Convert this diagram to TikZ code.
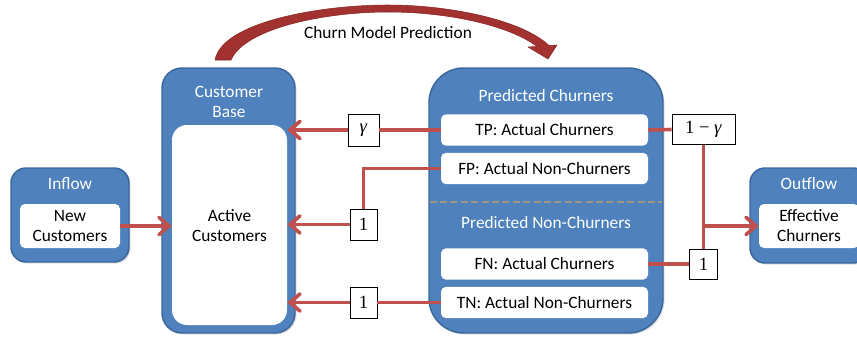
\documentclass[tikz,border=0pt]{standalone}
\usepackage{fontspec}
\setmainfont{Carlito}
\newfontfamily\factorfont{Liberation Serif}
\usetikzlibrary{arrows.meta,shadows,calc}
\definecolor{boxblue}{HTML}{4F81BD}
\definecolor{boxedge}{HTML}{3A679B}
\definecolor{flowred}{HTML}{C0504D}
\definecolor{arcred}{HTML}{A2322F}
\definecolor{arcedge}{HTML}{872624}
\definecolor{dashgray}{HTML}{A39480}
\begin{document}
\begin{tikzpicture}[x=0.75pt,y=-0.75pt,
  font=\fontsize{13}{15}\selectfont,
  outerbox/.style={draw=boxedge,line width=1.1pt,fill=boxblue,inner sep=0pt,
    drop shadow={opacity=0.25,shadow xshift=1.2pt,shadow yshift=-1.2pt}},
  whitebox/.style={fill=white,inner sep=0pt,rounded corners=3.75pt,align=center,text=black},
  title/.style={text=white,inner sep=0pt,align=center},
  subbox/.style={whitebox,minimum width=155.25pt,minimum height=23.5pt},
  factor/.style={draw=black,line width=0.5pt,fill=white,inner sep=0pt,font=\factorfont\fontsize{14}{16}\selectfont},
  flow/.style={draw=flowred,line width=2.7pt},
  flowarrow/.style={flow,-{Straight Barb[length=7.5pt,width=13pt,line cap=round]}},
  ]
\useasboundingbox (0,0) rectangle (857,336);
\clip (0,0) rectangle (857,336);

% Inflow
\node[outerbox,rounded corners=11.25pt,minimum width=88.5pt,minimum height=70.5pt] (inflow) at (70,215) {};
\node[title] (inflowt) at (70,184) {Inflow};
\node[whitebox,minimum width=75pt,minimum height=33pt,text width=72pt] (inflowin) at (70,226) {New\\Customers};

% Customer base
\node[outerbox,rounded corners=15pt,minimum width=99.75pt,minimum height=198.75pt] (cb) at (228.5,200.5) {};
\node[title] (cbt) at (229,102) {Customer\\Base};
\node[whitebox,rounded corners=11.25pt,minimum width=86.25pt,minimum height=150pt] (cbin) at (229.5,225) {};
\node[inner sep=0pt,align=center] (active) at (229.5,226) {Active\\Customers};

% Predicted
\node[outerbox,rounded corners=26pt,minimum width=175.5pt,minimum height=198.75pt] (pred) at (546,200.5) {};
\coordinate (dashy) at (546,202);
\draw[dashgray,line width=1.6pt,dash pattern=on 5.2pt off 2.6pt] ([xshift=1pt]pred.west |- dashy) -- ([xshift=-1pt]pred.east |- dashy);
\node[title] (pct) at (546,96) {Predicted Churners};
\node[title] (pnt) at (546,223) {Predicted Non-Churners};
\node[subbox] (tp) at (544.5,130) {TP: Actual Churners};
\node[subbox] (fp) at (544.5,168.5) {FP: Actual Non-Churners};
\node[subbox] (fn) at (544.5,264) {FN: Actual Churners};
\node[subbox] (tn) at (544.5,302.5) {TN: Actual Non-Churners};

% Outflow
\node[outerbox,rounded corners=11.25pt,minimum width=88.5pt,minimum height=71.25pt] (outflow) at (809,215.5) {};
\node[title] (outflowt) at (809,184) {Outflow};
\node[whitebox,minimum width=75pt,minimum height=33pt,text width=72pt] (outin) at (809,226) {Effective\\Churners};

% factor boxes
\node[factor,minimum width=23.25pt,minimum height=24pt] (gam) at (363.5,130) {\textit{γ}};
\node[factor,minimum width=20.25pt,minimum height=23.25pt] (one1) at (363.5,224.5) {1};
\node[factor,minimum width=20.25pt,minimum height=23.25pt] (one2) at (363.5,302.5) {1};
\node[factor,minimum width=47.25pt,minimum height=22.5pt] (omg) at (703.5,129.5) {1 − \textit{γ}};
\node[factor,minimum width=21pt,minimum height=22.5pt] (one3) at (703.5,264) {1};

% flows
\draw[flowarrow] (inflowin.east) -- (inflowin.east -| cbin.west);
\draw[flow] (tp.west) -- (gam.east);
\draw[flowarrow] (gam.west) -- (gam.west -| cbin.east);
\draw[flow] (fp.west) -| (one1.north);
\draw[flowarrow] (one1.west) -- (one1.west -| cbin.east);
\draw[flow] (tn.west) -- (one2.east);
\draw[flowarrow] (one2.west) -- (one2.west -| cbin.east);
\draw[flow] (tp.east) -- (omg.west);
\draw[flow] (fn.east) -- (one3.west);
\draw[flow] (omg.south) -- (one3.north);
\coordinate (junc) at (omg.south |- outin.west);
\draw[flowarrow] (junc) -- (outin.west);

% churn model prediction arc
\coordinate (arctip) at (548,59);
\fill[arcred,draw=arcedge,line width=0.4pt,line join=round]
  (215,60) .. controls (222,22) and (320,5) .. (388,5)
  .. controls (450,5) and (522,20) .. (549,45.5)
  -- (557,45) -- (arctip) -- (528,47) -- (537,46.5)
  .. controls (510,26) and (450,12) .. (388,12)
  .. controls (325,12) and (245,28) .. (231,60) -- cycle;
\node[inner sep=0pt] (cmp) at (388,33) {Churn Model Prediction};
\end{tikzpicture}
\end{document}
